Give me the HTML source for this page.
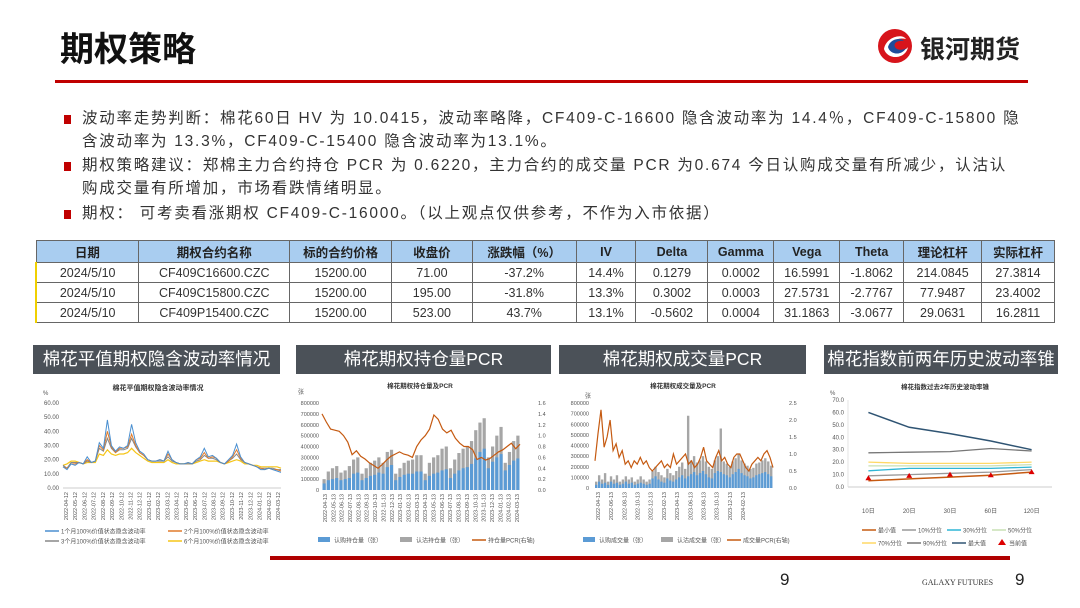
<!DOCTYPE html>
<html><head><meta charset="utf-8">
<style>
*{margin:0;padding:0;box-sizing:border-box}
body{width:1080px;height:608px;background:#fff;position:relative;overflow:hidden;font-family:"Liberation Sans","Noto Sans CJK SC",sans-serif;color:#222}
.abs{position:absolute}
.bl{position:absolute;left:82px;font-size:15.5px;letter-spacing:1.75px;line-height:23px;color:#333;white-space:nowrap}
.sq{position:absolute;left:64px;width:7px;height:9px;background:#c00000}
table{position:absolute;left:35px;top:240px;width:1020px;border-collapse:collapse;font-size:12.5px;text-align:center}
td,th{border:1px solid #666;height:20px;padding:0}
th{background:#a9cdf0;font-weight:bold;height:22px;color:#222}
td{background:#fff;color:#333}
.ban{position:absolute;top:345px;height:29px;background:#4b5158;color:#fff;font-size:17.5px;text-align:center;line-height:29px;white-space:nowrap;overflow:hidden}
svg text{font-family:"Liberation Sans","Noto Sans CJK SC",sans-serif}
</style></head><body>
<div class="abs" style="left:60px;top:22px;font-size:34px;font-weight:bold;color:#111">期权策略</div>
<svg class="abs" style="left:876px;top:27px" width="38" height="38" viewBox="0 0 38 38">
<circle cx="19" cy="19" r="17" fill="#d7141b"/><path d="M8 22 C10 10 26 6 30 12 C22 10 14 14 16 20 C18 26 30 24 32 20 C30 32 12 34 8 22Z" fill="#fff"/><path d="M12 20 C14 12 24 10 28 14 C22 13 17 16 19 20 C21 24 28 23 30 21 C26 29 14 28 12 20Z" fill="#1e4c9a"/></svg>
<div class="abs" style="left:920px;top:30px;font-size:25px;font-weight:bold;color:#222">银河期货</div>
<div class="abs" style="left:55px;top:80px;width:973px;height:3px;background:#c00000"></div>

<div class="sq" style="top:115px"></div>
<div class="bl" style="top:107px">波动率走势判断：棉花60日 HV 为 10.0415，波动率略降，CF409-C-16600 隐含波动率为 14.4％，CF409-C-15800 隐<br>含波动率为 13.3%，CF409-C-15400 隐含波动率为13.1%。</div>
<div class="sq" style="top:162px"></div>
<div class="bl" style="top:154px">期权策略建议：郑棉主力合约持仓 PCR 为 0.6220，主力合约的成交量 PCR 为0.674 今日认购成交量有所减少，认沽认<br>购成交量有所增加，市场看跌情绪明显。</div>
<div class="sq" style="top:210px"></div>
<div class="bl" style="top:202px">期权：&nbsp;可考卖看涨期权 CF409-C-16000。（以上观点仅供参考，不作为入市依据）</div>

<table>
<colgroup><col style="width:103px"><col style="width:151px"><col style="width:102px"><col style="width:81px"><col style="width:104px"><col style="width:60px"><col style="width:72px"><col style="width:66px"><col style="width:66px"><col style="width:64px"><col style="width:78px"><col style="width:73px"></colgroup>
<tr><th>日期</th><th>期权合约名称</th><th>标的合约价格</th><th>收盘价</th><th>涨跌幅（%）</th><th>IV</th><th>Delta</th><th>Gamma</th><th>Vega</th><th>Theta</th><th>理论杠杆</th><th>实际杠杆</th></tr>
<tr><td style="border-left:2px solid #f0d000">2024/5/10</td><td>CF409C16600.CZC</td><td>15200.00</td><td>71.00</td><td>-37.2%</td><td>14.4%</td><td>0.1279</td><td>0.0002</td><td>16.5991</td><td>-1.8062</td><td>214.0845</td><td>27.3814</td></tr>
<tr><td style="border-left:2px solid #f0d000">2024/5/10</td><td>CF409C15800.CZC</td><td>15200.00</td><td>195.00</td><td>-31.8%</td><td>13.3%</td><td>0.3002</td><td>0.0003</td><td>27.5731</td><td>-2.7767</td><td>77.9487</td><td>23.4002</td></tr>
<tr><td style="border-left:2px solid #f0d000">2024/5/10</td><td>CF409P15400.CZC</td><td>15200.00</td><td>523.00</td><td>43.7%</td><td>13.1%</td><td>-0.5602</td><td>0.0004</td><td>31.1863</td><td>-3.0677</td><td>29.0631</td><td>16.2811</td></tr>
</table>

<div class="ban" style="left:33px;width:247px">棉花平值期权隐含波动率情况</div>
<div class="ban" style="left:296px;width:255px">棉花期权持仓量PCR</div>
<div class="ban" style="left:559px;width:247px">棉花期权成交量PCR</div>
<div class="ban" style="left:824px;width:234px">棉花指数前两年历史波动率锥</div>

<svg class="abs" id="c1" style="left:33px;top:378px" width="250" height="170"></svg>
<svg class="abs" id="c2" style="left:290px;top:378px" width="262" height="170"></svg>
<svg class="abs" id="c3" style="left:555px;top:378px" width="255" height="170"></svg>
<svg class="abs" id="c4" style="left:820px;top:378px" width="240" height="170"></svg>

<div class="abs" style="left:270px;top:556px;width:740px;height:4px;background:#b00000"></div>
<div class="abs" style="left:780px;top:570px;font-size:17px">9</div>
<div class="abs" style="left:922px;top:578px;font-size:8px;font-family:'Liberation Serif',serif;color:#333">GALAXY FUTURES</div>
<div class="abs" style="left:1015px;top:570px;font-size:17px">9</div>

<script>
// ---- chart 1 data ----
const ivTicks=[0,10,20,30,40,50,60];
const ivDates=['2022-04-12','2022-05-12','2022-06-12','2022-07-12','2022-08-12','2022-09-12','2022-10-12','2022-11-12','2022-12-12','2023-01-12','2023-02-12','2023-03-12','2023-04-12','2023-05-12','2023-06-12','2023-07-12','2023-08-12','2023-09-12','2023-10-12','2023-11-12','2023-12-12','2024-01-12','2024-02-12','2024-03-12'];
const iv1m=[15,13,17,16,18,17,22,18,19,32,28,48,30,26,29,28,30,45,32,26,24,20,19,19,20,19,26,20,18,17,17,18,17,20,22,28,22,23,21,18,17,20,23,31,22,18,17,16,15,13,13,14,13,12,11];
const iv2m=[15,14,17,17,18,17,20,18,19,30,27,40,29,25,28,28,29,38,30,25,23,20,19,19,20,19,24,20,18,17,17,18,17,20,21,25,21,22,21,18,17,19,22,27,21,18,17,16,15,14,13,14,13,13,12];
const iv3m=[16,14,18,18,18,17,19,18,19,28,26,35,28,25,27,27,28,35,29,25,23,20,19,19,19,19,22,19,18,17,17,17,17,19,20,23,21,21,20,18,17,19,21,24,20,18,17,16,15,14,14,14,14,13,13];
const iv6m=[16,17,19,19,18,17,18,18,18,24,23,27,24,23,24,24,25,28,25,23,21,19,18,18,18,18,20,18,17,17,17,17,17,18,19,20,19,19,19,18,17,18,19,20,19,17,17,16,16,15,15,15,15,15,14];
// ---- chart 2 data ----
const oiTicks=[0,100000,200000,300000,400000,500000,600000,700000,800000];
const pcrTicks2=[0,0.2,0.4,0.6,0.8,1.0,1.2,1.4,1.6];
const oiDates=['2022-04-13','2022-05-13','2022-06-13','2022-07-13','2022-08-13','2022-09-13','2022-10-13','2022-11-13','2022-12-13','2023-01-13','2023-02-13','2023-03-13','2023-04-13','2023-05-13','2023-06-13','2023-07-13','2023-08-13','2023-09-13','2023-10-13','2023-11-13','2023-12-13','2024-01-13','2024-02-13','2024-03-13'];
const oiTotal=[100000,170000,200000,220000,160000,180000,220000,280000,300000,150000,200000,250000,270000,300000,250000,350000,370000,150000,200000,250000,270000,280000,320000,320000,150000,250000,300000,320000,380000,400000,200000,280000,340000,380000,400000,450000,550000,620000,660000,300000,400000,500000,580000,250000,350000,450000,500000];
const oiCall=[60000,90000,100000,110000,90000,100000,110000,150000,160000,90000,110000,130000,140000,160000,150000,210000,230000,90000,120000,140000,150000,150000,170000,170000,90000,130000,150000,160000,180000,190000,110000,150000,180000,200000,210000,240000,290000,350000,380000,200000,260000,300000,330000,180000,230000,270000,290000];
const oiPcr=[1.4,1.25,1.12,1.1,1.08,1.0,0.88,0.65,0.72,0.62,0.57,0.5,0.45,0.4,0.47,0.55,0.62,0.66,0.7,0.66,0.64,0.6,0.8,0.92,1.0,1.12,1.38,1.3,1.12,1.05,1.1,0.95,0.86,0.8,0.8,0.74,0.56,0.6,0.55,0.58,0.64,0.7,0.74,0.8,0.86,0.76,0.84];
// ---- chart 3 data ----
const volTicks=[0,100000,200000,300000,400000,500000,600000,700000,800000];
const pcrTicks3=[0,0.5,1.0,1.5,2.0,2.5];
const volDates=['2022-04-13','2022-06-13','2022-08-13','2022-10-13','2022-12-13','2023-02-13','2023-04-13','2023-06-13','2023-08-13','2023-10-13','2023-12-13','2024-02-13'];
const volCall=[30000,60000,40000,50000,30000,60000,40000,50000,30000,40000,60000,40000,50000,30000,40000,50000,40000,30000,40000,90000,110000,80000,60000,50000,90000,70000,60000,80000,100000,120000,90000,110000,130000,150000,120000,140000,160000,130000,100000,90000,140000,160000,150000,130000,120000,100000,130000,150000,180000,140000,120000,110000,90000,100000,120000,130000,140000,150000,130000,110000];
const volTotal=[60000,120000,80000,140000,60000,110000,80000,120000,60000,80000,110000,80000,100000,60000,80000,110000,80000,60000,80000,160000,200000,150000,120000,100000,180000,140000,120000,160000,200000,240000,180000,680000,260000,300000,240000,260000,300000,250000,200000,180000,260000,300000,560000,250000,230000,200000,250000,280000,320000,260000,230000,210000,180000,190000,230000,240000,260000,280000,250000,210000];
const volPcr=[0.8,1.6,2.3,1.2,1.5,2.0,1.1,1.3,0.9,1.1,0.7,0.8,0.6,0.8,0.7,0.9,0.7,0.8,0.6,0.5,0.6,0.7,0.8,0.6,0.7,0.6,1.0,0.7,0.8,0.9,1.0,0.7,0.8,0.6,0.7,0.9,1.2,0.8,0.7,0.6,0.9,1.1,0.8,0.9,0.7,0.6,0.9,1.0,1.0,0.8,0.6,0.5,0.7,0.8,0.9,0.8,1.0,1.1,0.9,0.6];
// ---- chart 4 data ----
const coneCats=['10日','20日','30日','60日','120日'];
const coneTicks=[0,10,20,30,40,50,60,70];
const coneMin=[5,6.5,8,9.5,12];
const coneP10=[9,10,11,12,14];
const coneP30=[13,15,15,15,16];
const coneP50=[17,17,17,17,18];
const coneP70=[20,19,19,19,20];
const coneP90=[27.5,28,28.5,31,29];
const coneMax=[60,48,43,37,30];
const coneNow=[7,9,10,9.5,12];

const NS='http://www.w3.org/2000/svg';
function mk(svg,tag,at,txt){const e=document.createElementNS(NS,tag);for(const k in at)e.setAttribute(k,at[k]);if(txt!==undefined)e.textContent=txt;svg.appendChild(e);return e;}
function lin(d0,d1,r0,r1){return v=>r0+(v-d0)/(d1-d0)*(r1-r0);}
function poly(svg,arr,x,y,color,w,name){const p=arr.map((v,i)=>x(i).toFixed(1)+','+y(v).toFixed(1)).join(' ');const e=mk(svg,'polyline',{points:p,fill:'none',stroke:color,'stroke-width':w});return e;}
function leg(svg,x,y,color,label,kind){if(kind==='bar')mk(svg,'rect',{x:x,y:y-3,width:12,height:5,fill:color});else if(kind==='tri')mk(svg,'path',{d:`M${x+4} ${y-4}L${x+8} ${y+2}L${x} ${y+2}Z`,fill:color});else mk(svg,'line',{x1:x,y1:y,x2:x+14,y2:y,stroke:color,'stroke-width':1.5});const t=mk(svg,'text',{x:x+(kind==='tri'?11:16),y:y+2.5,'font-size':6,fill:'#555'},label);}
function dates(svg,list,x0,x1,y,step){list.forEach((d,i)=>{const xx=x0+(x1-x0)*i/(list.length-1);mk(svg,'text',{x:xx+2,y:y,'font-size':5.5,fill:'#555',transform:`rotate(-90 ${xx+2} ${y})`,'text-anchor':'end'},d);});}

// chart 1
(function(){const s=document.getElementById('c1');
mk(s,'text',{x:125,y:12,'font-size':7,'font-weight':'bold','text-anchor':'middle',fill:'#333'},'棉花平值期权隐含波动率情况');
mk(s,'text',{x:10,y:17,'font-size':6,fill:'#555'},'%');
const X0=30,X1=248,y=lin(0,60,110,25);
ivTicks.forEach(t=>{mk(s,'text',{x:X0-4,y:y(t)+2,'font-size':6,'text-anchor':'end',fill:'#555'},t.toFixed(2));});
mk(s,'line',{x1:X0,y1:y(0),x2:X1,y2:y(0),stroke:'#bbb','stroke-width':0.8});
const x=lin(0,iv1m.length-1,X0,X1);
poly(s,iv6m,x,y,'#f5c518',1.2,'series-6m-iv');
poly(s,iv3m,x,y,'#888',1,'series-3m-iv');
poly(s,iv2m,x,y,'#e07b2a',1,'series-2m-iv');
poly(s,iv1m,x,y,'#4a8fd0',1,'series-1m-iv');
dates(s,ivDates,X0+3,X1-3,114);
leg(s,12,153,'#4a8fd0','1个月100%价值状态隐含波动率');leg(s,135,153,'#e07b2a','2个月100%价值状态隐含波动率');
leg(s,12,163,'#888','3个月100%价值状态隐含波动率');leg(s,135,163,'#f5c518','6个月100%价值状态隐含波动率');
})();

// chart 2
(function(){const s=document.getElementById('c2');
mk(s,'text',{x:130,y:10,'font-size':6.5,'font-weight':'bold','text-anchor':'middle',fill:'#333'},'棉花期权持仓量及PCR');
mk(s,'text',{x:8,y:16,'font-size':6,fill:'#555'},'张');
const X0=32,X1=230,y=lin(0,800000,112,25),y2=lin(0,1.6,112,25);
oiTicks.forEach(t=>mk(s,'text',{x:X0-3,y:y(t)+2,'font-size':5.5,'text-anchor':'end',fill:'#555'},t));
pcrTicks2.forEach(t=>mk(s,'text',{x:X1+18,y:y2(t)+2,'font-size':5.5,fill:'#555'},t.toFixed(1)));
const n=oiTotal.length,bw=(X1-X0)/n;
oiTotal.forEach((v,i)=>{const r=mk(s,'rect',{x:X0+i*bw+0.5,y:y(v),width:bw-1,height:y(0)-y(v),fill:'#a6a6a6'});});
oiCall.forEach((v,i)=>{const r=mk(s,'rect',{x:X0+i*bw+0.5,y:y(v),width:bw-1,height:y(0)-y(v),fill:'#5b9bd5'});});
poly(s,oiPcr,lin(0,oiPcr.length-1,X0,X1),y2,'#c55a11',1.2,'series-oi-pcr');
dates(s,oiDates,X0+3,X1-3,116);
leg(s,28,162,'#5b9bd5','认购持仓量（张）','bar');leg(s,110,162,'#a6a6a6','认沽持仓量（张）','bar');leg(s,182,162,'#c55a11','持仓量PCR(右轴)');
})();

// chart 3
(function(){const s=document.getElementById('c3');
mk(s,'text',{x:128,y:10,'font-size':6.5,'font-weight':'bold','text-anchor':'middle',fill:'#333'},'棉花期权成交量及PCR');
mk(s,'text',{x:30,y:20,'font-size':6,fill:'#555'},'张');
const X0=40,X1=218,y=lin(0,800000,110,25),y2=lin(0,2.5,110,25);
volTicks.forEach(t=>mk(s,'text',{x:X0-6,y:y(t)+2,'font-size':5.5,'text-anchor':'end',fill:'#555'},t));
pcrTicks3.forEach(t=>mk(s,'text',{x:X1+16,y:y2(t)+2,'font-size':5.5,fill:'#555'},t.toFixed(1)));
const n=volTotal.length,bw=(X1-X0)/n;
volTotal.forEach((v,i)=>{const r=mk(s,'rect',{x:X0+i*bw,y:y(v),width:bw*0.8,height:y(0)-y(v),fill:'#a6a6a6'});});
volCall.forEach((v,i)=>{const r=mk(s,'rect',{x:X0+i*bw,y:y(v),width:bw*0.8,height:y(0)-y(v),fill:'#5b9bd5'});});
poly(s,volPcr,lin(0,volPcr.length-1,X0,X1),y2,'#c55a11',1.2,'series-volume-pcr');
dates(s,volDates,X0+3,X1-30,114);
leg(s,28,162,'#5b9bd5','认购成交量（张）','bar');leg(s,106,162,'#a6a6a6','认沽成交量（张）','bar');leg(s,172,162,'#c55a11','成交量PCR(右轴)');
})();

// chart 4
(function(){const s=document.getElementById('c4');
mk(s,'text',{x:125,y:11,'font-size':6.5,'font-weight':'bold','text-anchor':'middle',fill:'#333'},'棉花指数过去2年历史波动率锥');
mk(s,'text',{x:10,y:17,'font-size':6,fill:'#555'},'%');
const X0=28,X1=232,y=lin(0,70,109,22);
coneTicks.forEach(t=>mk(s,'text',{x:X0-4,y:y(t)+2,'font-size':6,'text-anchor':'end',fill:'#555'},t.toFixed(1)));
mk(s,'line',{x1:X0,y1:y(0),x2:X1,y2:y(0),stroke:'#bbb','stroke-width':0.8});
mk(s,'line',{x1:X0,y1:y(0),x2:X0,y2:y(70),stroke:'#ddd','stroke-width':0.8});
const cw=(X1-X0)/coneCats.length,x=i=>X0+cw*(i+0.5);
coneCats.forEach((c,i)=>mk(s,'text',{x:x(i),y:y(0)+26,'font-size':6,'text-anchor':'middle',fill:'#555'},c));
poly(s,coneP70,x,y,'#ffd966',1.3,'series-p70');
poly(s,coneP50,x,y,'#c9e0b4',1.3,'series-p50');
poly(s,coneP30,x,y,'#2eb6d6',1.3,'series-p30');
poly(s,coneP10,x,y,'#999',1.3,'series-p10');
poly(s,coneP90,x,y,'#777',1.3,'series-p90');
poly(s,coneMax,x,y,'#2f5473',1.5,'series-max');
poly(s,coneMin,x,y,'#c55a11',1.5,'series-min');
coneNow.forEach((v,i)=>{const t=mk(s,'path',{d:`M${x(i)} ${y(v)-3}L${x(i)+3} ${y(v)+2}L${x(i)-3} ${y(v)+2}Z`,fill:'#d00'});});
leg(s,42,152,'#c55a11','最小值');leg(s,82,152,'#999','10%分位');leg(s,127,152,'#2eb6d6','30%分位');leg(s,172,152,'#c9e0b4','50%分位');
leg(s,42,165,'#ffd966','70%分位');leg(s,87,165,'#777','90%分位');leg(s,132,165,'#2f5473','最大值');leg(s,178,165,'#d00','当前值','tri');
})();
</script>
</body></html>
